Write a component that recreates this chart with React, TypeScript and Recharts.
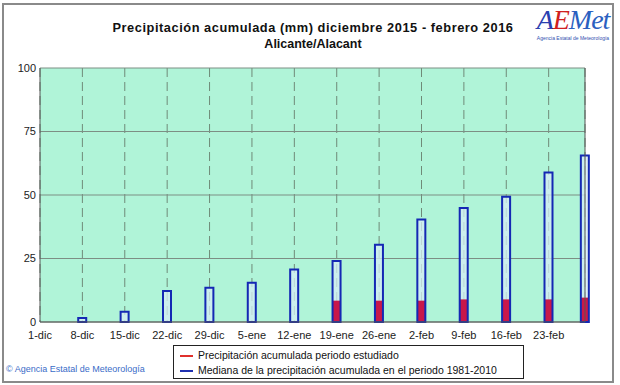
import React from 'react';
import { ComposedChart, Bar, XAxis, YAxis, CartesianGrid, ReferenceLine } from 'recharts';

const barDays = [7, 14, 21, 28, 35, 42, 49, 56, 63, 70, 77, 84, 90];
const medianValues = [1.6, 4.0, 12.2, 13.5, 15.5, 20.7, 24.0, 30.4, 40.4, 44.9, 49.3, 58.9, 65.6];
const observedValues = [0, 0, 0, 0, 0, 0, 8.4, 8.4, 8.4, 8.9, 8.9, 8.9, 9.6];
const tickDays = [0, 7, 14, 21, 28, 35, 42, 49, 56, 63, 70, 77, 84];
const tickLabels = ['1-dic', '8-dic', '15-dic', '22-dic', '29-dic', '5-ene', '12-ene', '19-ene', '26-ene', '2-feb', '9-feb', '16-feb', '23-feb'];
const yTicks = [0, 25, 50, 75, 100];
const legendItems = [
  { label: 'Precipitación acumulada periodo estudiado', color: '#e0302c' },
  { label: 'Mediana de la precipitación acumulada en el periodo 1981-2010', color: '#2030b0' },
];

const data = barDays.map((d, i) => ({ day: d, median: medianValues[i], observed: observedValues[i] }));

const FONT = '"Liberation Sans", Arial, sans-serif';

const LegendBox = () => (
  <div
    style={{
      position: 'absolute',
      left: 173,
      top: 345,
      width: 351,
      height: 34,
      border: '1px solid #222',
      background: '#fff',
      boxSizing: 'border-box',
      fontFamily: FONT,
      fontSize: 10.5,
      color: '#111',
      padding: '2px 0 0 6px',
      lineHeight: '15px',
    }}
  >
    {legendItems.map((it) => (
      <div key={it.label} style={{ display: 'flex', alignItems: 'center', whiteSpace: 'nowrap' }}>
        <span style={{ display: 'inline-block', width: 13, height: 2, background: it.color, marginRight: 5 }} />
        <span>{it.label}</span>
      </div>
    ))}
  </div>
);

export default function App() {
  return (
    <div style={{ position: 'absolute', left: 0, top: 0, width: 620, height: 385, background: '#fff', overflow: 'hidden' }}>
      <div
        style={{
          position: 'absolute',
          left: 2,
          top: 3,
          width: 612,
          height: 380,
          border: '2px solid #8a8a8a',
          boxSizing: 'border-box',
        }}
      />
      <div
        style={{
          position: 'absolute',
          left: 0,
          top: 20,
          width: 626,
          textAlign: 'center',
          fontFamily: FONT,
          fontWeight: 'bold',
          fontSize: 12.5,
          lineHeight: '16px',
          color: '#111',
        }}
      >
        <div style={{ fontSize: 12.8, letterSpacing: 0.55 }}>Precipitación acumulada (mm) diciembre 2015 - febrero 2016</div>
        <div>Alicante/Alacant</div>
      </div>
      <div style={{ position: 'absolute', left: 534, top: 6, width: 78, textAlign: 'center' }}>
        <div style={{ fontFamily: '"Liberation Serif", serif', fontStyle: 'italic', fontSize: 28, lineHeight: '28px', letterSpacing: -1 }}>
          <span style={{ color: '#2a40b0' }}>A</span>
          <span style={{ color: '#d02020' }}>E</span>
          <span style={{ color: '#2a60c0' }}>Met</span>
        </div>
        <div style={{ fontFamily: FONT, fontSize: 5, color: '#3050b0', marginTop: 1 }}>Agencia Estatal de Meteorología</div>
      </div>
      <ComposedChart
        width={620}
        height={385}
        data={data}
        margin={{ top: 68, right: 35, bottom: 43, left: 0 }}
        style={{ position: 'absolute', left: 0, top: 0 }}
      >
        <CartesianGrid
          xAxisId="a"
          horizontal={false}
          stroke="#6f8a78"
          strokeDasharray="9 5"
          fill="#b0f4d8"
          fillOpacity={1}
        />
        <CartesianGrid xAxisId="a" vertical={false} stroke="#7d8e84" strokeDasharray="" />
        <XAxis
          xAxisId="a"
          dataKey="day"
          type="number"
          domain={[0, 90]}
          ticks={tickDays}
          tickFormatter={(v: number) => tickLabels[tickDays.indexOf(v)] ?? ''}
          interval={0}
          height={20}
          axisLine={{ stroke: '#555' }}
          tickLine={false}
          tickSize={4}
          tickMargin={5}
          tick={{ fontFamily: FONT, fontSize: 11, fill: '#222' }}
        />
        <XAxis xAxisId="b" dataKey="day" type="number" domain={[0, 90]} hide />
        <XAxis xAxisId="c" dataKey="day" type="number" domain={[0, 90]} hide />
        <YAxis
          domain={[0, 100]}
          ticks={yTicks}
          width={40}
          axisLine={{ stroke: '#555' }}
          tickLine={false}
          tickSize={4}
          tickMargin={0}
          tick={{ fontFamily: FONT, fontSize: 11, fill: '#222' }}
        />
        <ReferenceLine xAxisId="a" x={90} stroke="#555" strokeWidth={1} />
        <Bar xAxisId="a" dataKey="median" barSize={8} fill="#d6ecf4" fillOpacity={0.75} isAnimationActive={false} />
        <Bar xAxisId="b" dataKey="observed" barSize={8} fill="#c8184a" isAnimationActive={false} />
        <Bar xAxisId="c" dataKey="median" barSize={8} fill="none" stroke="#1428b4" strokeWidth={2} isAnimationActive={false} />
      </ComposedChart>
      <LegendBox />
      <div
        style={{
          position: 'absolute',
          left: 6,
          top: 364,
          fontFamily: FONT,
          fontSize: 9,
          color: '#3a6cc8',
          whiteSpace: 'nowrap',
        }}
      >
        © Agencia Estatal de Meteorología
      </div>
    </div>
  );
}
